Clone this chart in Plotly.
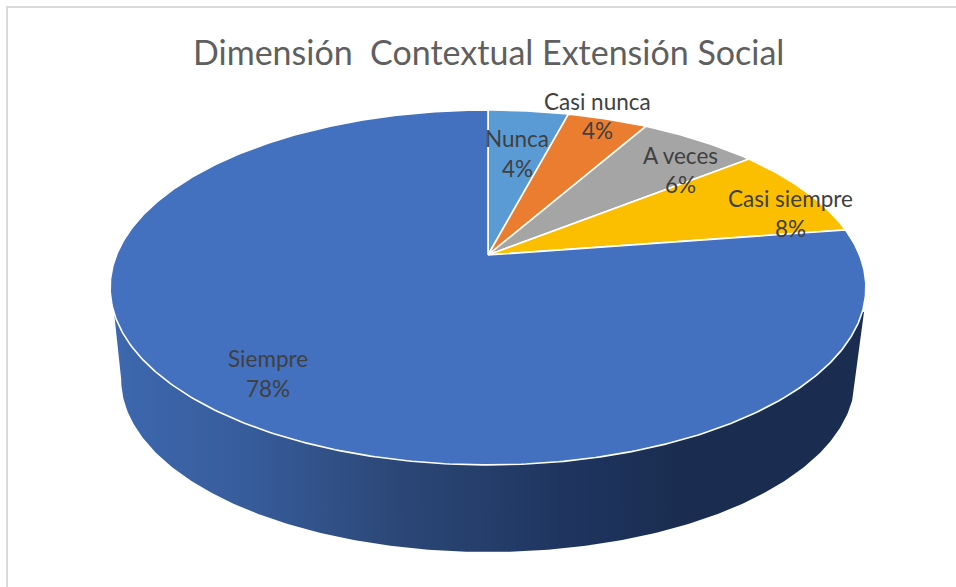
import numpy as np
import plotly.graph_objects as go

# Data
categories = ["Nunca", "Casi nunca", "A veces", "Casi siempre", "Siempre"]
values = [4.1, 4.1, 6.1, 8.3, 77.4]
percent_labels = ["4%", "4%", "6%", "8%", "78%"]
colors = ["#5B9BD5", "#EB7D31", "#A5A5A5", "#FCBF00", "#4371C0"]
title_text = "Dimensión\u00a0\u00a0Contextual Extensión Social"

# Layout of the pseudo-3D projection (pixels)
W, H = 956, 587
APEX = (488.0, 255.0)
A, B, K = 371.5, 171.5, 0.183
DEPTH_CY, DEPTH_SCALE = 379.3, 0.973
ELL_CX, ELL_CY, ELL_RX, ELL_RY = 488.0, 287.5, 377.0, 177.5
label_pos = [(517, 138, 168), (597, 101, 130), (680, 155, 184), (790, 198, 228), (268, 358, 388)]


def rim(theta):
    w = 1 + K * np.cos(theta)
    return APEX[0] + A * np.sin(theta) / w, APEX[1] - B * np.cos(theta) / w


fig = go.Figure()

# Side wall
t = np.linspace(np.pi / 2, 3 * np.pi / 2, 240)
wx = ELL_CX + DEPTH_SCALE * ELL_RX * np.sin(t)
wy = DEPTH_CY - DEPTH_SCALE * ELL_RY * np.cos(t)
fig.add_trace(go.Scatter(
    x=np.r_[864.0, wx, 114.0],
    y=np.r_[312.0, wy, 312.0],
    mode="lines", line=dict(width=0), fill="toself", hoverinfo="skip",
    fillgradient=dict(
        type="horizontal", start=112, stop=865,
        colorscale=[[0, "#3D68AF"], [0.18, "#375C9B"], [0.37, "#2C4878"],
                    [0.6, "#1F3560"], [0.76, "#1A2D50"], [1, "#1A2D50"]],
    ),
))

# Top face slices
total = sum(values)
cum = 0.0
for name, v, c in zip(categories, values, colors):
    th = np.linspace(2 * np.pi * cum / total, 2 * np.pi * (cum + v) / total, max(8, int(v * 6)))
    rx, ry = rim(th)
    fig.add_trace(go.Scatter(
        x=np.r_[APEX[0], rx, APEX[0]], y=np.r_[APEX[1], ry, APEX[1]],
        mode="lines", line=dict(color="white", width=1.6), fill="toself",
        fillcolor=c, name=name, hoverinfo="name",
    ))
    cum += v

# Labels
for name, pct, (lx, y1, y2) in zip(categories, percent_labels, label_pos):
    for txt, ly in ((name, y1), (pct, y2)):
        fig.add_annotation(x=lx, y=ly, text=txt, showarrow=False, xanchor="center", yanchor="middle",
                           font=dict(family="Lato", size=22.5, color="#404040"))

fig.add_annotation(x=488.5, y=51, text=title_text, showarrow=False, xanchor="center", yanchor="middle",
                   font=dict(family="Lato", size=34, color="#5F5F5F"))

# Chart frame (left and top edges; the right and bottom run off the picture)
fig.add_shape(type="rect", x0=7, y0=7, x1=1000, y1=640, line=dict(color="#D9D9D9", width=2), layer="below")

fig.update_layout(
    width=W, height=H, margin=dict(l=0, r=0, t=0, b=0), showlegend=False,
    paper_bgcolor="white", plot_bgcolor="white",
    xaxis=dict(range=[0, W], visible=False, fixedrange=True),
    yaxis=dict(range=[H, 0], visible=False, fixedrange=True),
)
fig.write_html("out.html", config={"displayModeBar": False},
               post_script="document.body.style.margin='0';")
